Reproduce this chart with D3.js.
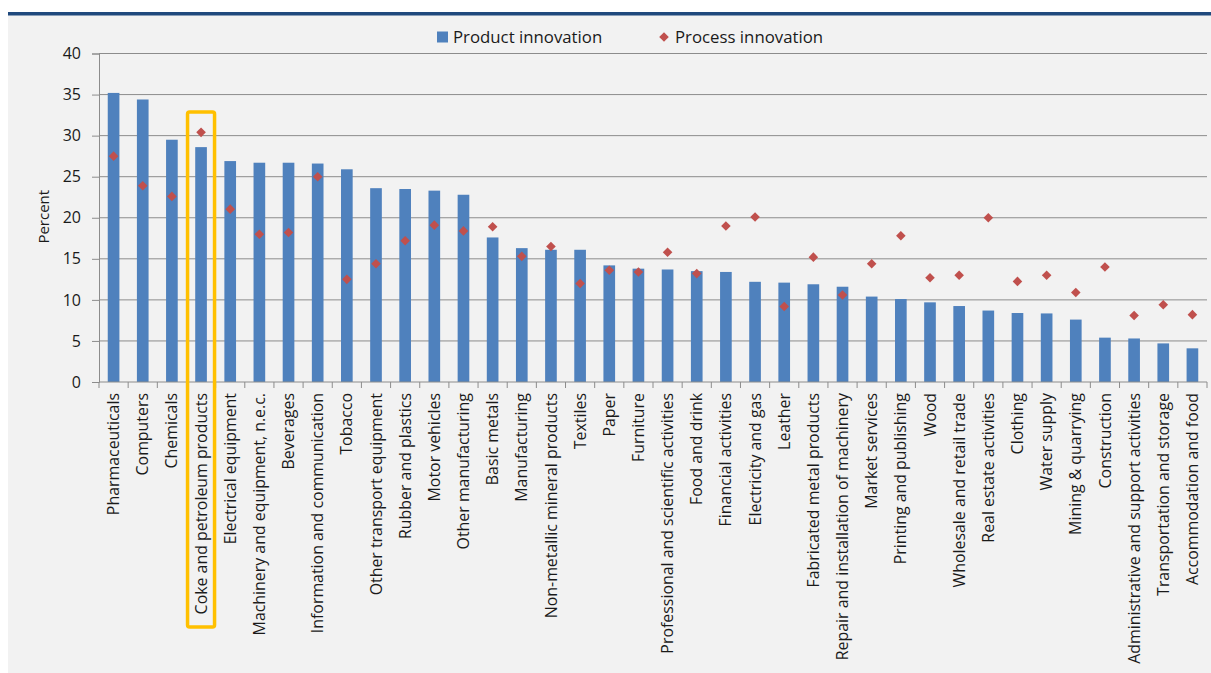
<!DOCTYPE html>
<html>
<head>
<meta charset="utf-8">
<script src="https://cdn.jsdelivr.net/npm/d3@7/dist/d3.min.js"></script>
<style>
  html, body { margin: 0; padding: 0; background: #ffffff; }
  svg { display: block; }
  text { font-family: "Open Sans", Lato, sans-serif; fill: #1a1a1a; }
</style>
</head>
<body>
<svg id="chart" width="1211" height="673"></svg>
<script>
// Share of enterprises introducing innovations, by sector (percent)
const categories = [
  "Pharmaceuticals", "Computers", "Chemicals", "Coke and petroleum products",
  "Electrical equipment", "Machinery and equipment, n.e.c.", "Beverages",
  "Information and communication", "Tobacco", "Other transport equipment",
  "Rubber and plastics", "Motor vehicles", "Other manufacturing", "Basic metals",
  "Manufacturing", "Non-metallic mineral products", "Textiles", "Paper", "Furniture",
  "Professional and scientific activities", "Food and drink", "Financial activities",
  "Electricity and gas", "Leather", "Fabricated metal products",
  "Repair and installation of machinery", "Market services", "Printing and publishing",
  "Wood", "Wholesale and retail trade", "Real estate activities", "Clothing",
  "Water supply", "Mining & quarrying", "Construction",
  "Administrative and support activities", "Transportation and storage",
  "Accommodation and food"
];
const productInnovation = [
  35.2, 34.4, 29.5, 28.6, 26.9, 26.7, 26.7, 26.6, 25.9, 23.6,
  23.5, 23.3, 22.8, 17.6, 16.3, 16.1, 16.1, 14.2, 13.8, 13.7,
  13.5, 13.4, 12.2, 12.1, 11.9, 11.6, 10.4, 10.1, 9.7, 9.25,
  8.7, 8.4, 8.35, 7.6, 5.4, 5.3, 4.7, 4.1
];
const processInnovation = [
  27.5, 23.9, 22.6, 30.4, 21.05, 18.0, 18.2, 25.0, 12.5, 14.4,
  17.2, 19.1, 18.4, 18.9, 15.3, 16.5, 12.0, 13.6, 13.4, 15.8,
  13.2, 19.0, 20.1, 9.2, 15.2, 10.6, 14.4, 17.8, 12.7, 13.0,
  20.0, 12.25, 13.0, 10.9, 14.0, 8.1, 9.4, 8.2
];
const yTicks = [0, 5, 10, 15, 20, 25, 30, 35, 40];
const seriesNames = ["Product innovation", "Process innovation"];
const highlighted = "Coke and petroleum products";

const svg = d3.select("#chart");
const W = 1211, H = 673;
const margin = { left: 99, right: 4, top: 53.5, bottom: 291 };
const FONT = "'Open Sans', Lato, sans-serif";

// background panel and top rule
svg.append("rect").attr("x", 8).attr("y", 14).attr("width", W - 8).attr("height", H - 14)
  .attr("fill", "#f2f2f2");
svg.append("rect").attr("x", 8).attr("y", 12).attr("width", W - 8).attr("height", 3.5)
  .attr("fill", "#1f497d");

const x = d3.scaleBand().domain(categories)
  .range([margin.left, W - margin.right]).paddingInner(0.6).paddingOuter(0.3);
const y = d3.scaleLinear().domain([0, 40]).range([H - margin.bottom, margin.top]);

// gridlines
svg.append("g").selectAll("line").data(yTicks.filter(d => d > 0)).join("line")
  .attr("x1", margin.left).attr("x2", W - margin.right)
  .attr("y1", d => y(d)).attr("y2", d => y(d))
  .attr("stroke", "#8c8c8c").attr("stroke-width", 1);

// y axis
const yAxis = svg.append("g").attr("transform", `translate(${margin.left},0)`)
  .call(d3.axisLeft(y).tickValues(yTicks).tickSize(7).tickPadding(11));
yAxis.select(".domain").attr("stroke", "#8c8c8c");
yAxis.selectAll(".tick line").attr("stroke", "#8c8c8c");
yAxis.selectAll(".tick text").attr("font-size", 16).attr("fill", "#1a1a1a")
  .attr("font-family", FONT);

svg.append("text").attr("transform", `translate(49,${y(20) - 1}) rotate(-90)`)
  .attr("text-anchor", "middle").attr("font-size", 15).text("Percent");

// bars
svg.append("g").selectAll("rect").data(categories).join("rect")
  .attr("x", d => x(d)).attr("width", x.bandwidth())
  .attr("y", (d, i) => y(productInnovation[i]))
  .attr("height", (d, i) => y(0) - y(productInnovation[i]))
  .attr("fill", "#4f81bd");

// x axis with ticks between categories
const boundaries = d3.range(categories.length + 1)
  .map(i => margin.left + i * ((W - margin.right - margin.left) / categories.length));
svg.append("line").attr("x1", margin.left).attr("x2", W - margin.right)
  .attr("y1", y(0)).attr("y2", y(0)).attr("stroke", "#8c8c8c");
svg.append("g").selectAll("line").data(boundaries).join("line")
  .attr("x1", d => d).attr("x2", d => d).attr("y1", y(0)).attr("y2", y(0) + 6)
  .attr("stroke", "#8c8c8c");

// category labels
svg.append("g").selectAll("text").data(categories).join("text")
  .attr("transform", d => `translate(${x(d) + x.bandwidth() / 2},${y(0) + 11}) rotate(-90)`)
  .attr("text-anchor", "end").attr("dy", "0.35em").attr("font-size", 15.9).text(d => d);

// process innovation diamonds (squares turned 45 degrees)
const diamond = d3.symbol().type(d3.symbolSquare).size(46);
svg.append("g").selectAll("path").data(categories).join("path")
  .attr("d", diamond)
  .attr("transform", (d, i) => `translate(${x(d) + x.bandwidth() / 2},${y(processInnovation[i])}) rotate(45)`)
  .attr("fill", "#c0504d");

// highlight box
const hx = x(highlighted) + x.bandwidth() / 2;
svg.append("rect").attr("x", hx - 13.5).attr("y", 112).attr("width", 27).attr("height", 515)
  .attr("rx", 2).attr("fill", "none").attr("stroke", "#ffc000").attr("stroke-width", 3.5);

// legend
const legend = svg.append("g").attr("transform", "translate(0,37)");
legend.append("rect").attr("x", 437).attr("y", -5.5).attr("width", 11).attr("height", 11)
  .attr("fill", "#4f81bd");
legend.append("text").attr("x", 453).attr("y", 5.5).attr("font-size", 16.8).text(seriesNames[0]);
legend.append("path").attr("d", diamond).attr("transform", "translate(664,0) rotate(45)").attr("fill", "#c0504d");
legend.append("text").attr("x", 675).attr("y", 5.5).attr("font-size", 16.8).text(seriesNames[1]);
</script>
</body>
</html>
